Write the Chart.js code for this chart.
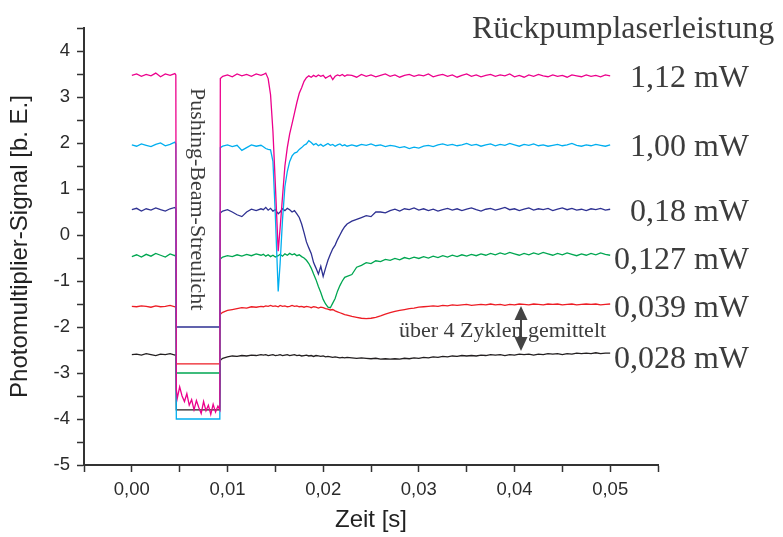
<!DOCTYPE html>
<html>
<head>
<meta charset="utf-8">
<title>Photomultiplier-Signal</title>
<script src="https://cdn.jsdelivr.net/npm/chart.js@4.4.1/dist/chart.umd.min.js"></script>
<style>
    html, body { margin: 0; padding: 0; background: #fff; }
    #wrap { width: 783px; height: 537px; }
</style>
</head>
<body>
<div id="wrap"><canvas id="chart" width="783" height="537"></canvas></div>
<script>
// Zeitachse (s) - gemeinsam fuer alle Kurven
const zeit = [
    0, 0.0005, 0.001, 0.0015, 0.002, 0.0025, 0.003, 0.0035, 0.004, 0.0045, 0.0046,
    0.00465, 0.00475, 0.005, 0.00525, 0.0055, 0.00575, 0.006, 0.00625, 0.0065, 0.00675,
    0.007, 0.00725, 0.0075, 0.00775, 0.008, 0.00825, 0.0085, 0.00875, 0.009, 0.0092,
    0.00925, 0.0095, 0.01, 0.0105, 0.011, 0.0115, 0.012, 0.0125, 0.013, 0.0135,
    0.01375, 0.014, 0.01425, 0.0145, 0.01475, 0.015, 0.0153, 0.0155, 0.01575, 0.016,
    0.01625, 0.0165, 0.01675, 0.017, 0.01725, 0.0175, 0.01775, 0.018, 0.01825, 0.0185,
    0.01875, 0.019, 0.01925, 0.0195, 0.01975, 0.02, 0.02025, 0.0205, 0.02075, 0.021,
    0.02125, 0.0215, 0.02175, 0.022, 0.02225, 0.0225,
    0.023, 0.0235, 0.024, 0.0245, 0.025, 0.0255, 0.026, 0.0265, 0.027, 0.0275,
    0.028, 0.0285, 0.029, 0.0295, 0.03, 0.0305, 0.031, 0.0315, 0.032, 0.0325,
    0.033, 0.0335, 0.034, 0.0345, 0.035, 0.0355, 0.036, 0.0365, 0.037, 0.0375,
    0.038, 0.0385, 0.039, 0.0395, 0.04, 0.0405, 0.041, 0.0415, 0.042, 0.0425,
    0.043, 0.0435, 0.044, 0.0445, 0.045, 0.0455, 0.046, 0.0465, 0.047, 0.0475,
    0.048, 0.0485, 0.049, 0.0495, 0.05
];

// 1,12 mW
const p112 = [
    3.47, 3.50, 3.45, 3.49, 3.46, 3.52, 3.44, 3.50, 3.47, 3.51, 3.48,
    -3.35, -3.55, -3.30, -3.50, -3.62, -3.45, -3.70, -3.58, -3.80, -3.60,
    -3.75, -3.88, -3.62, -3.82, -3.70, -3.90, -3.68, -3.85, -3.72, -3.80,
    3.40, 3.45, 3.48, 3.44, 3.50, 3.46, 3.49, 3.45, 3.50, 3.47,
    3.49, 3.52, 3.40, 3.05, 2.25, 1.10, -0.35, 0.15, 0.83, 1.50,
    1.90, 2.20, 2.42, 2.65, 2.88, 3.08, 3.20, 3.34, 3.42, 3.46,
    3.43, 3.47, 3.44, 3.48, 3.45, 3.47, 3.41, 3.44, 3.47, 3.38,
    3.45, 3.48, 3.46, 3.49, 3.45, 3.48,
    3.47, 3.43, 3.49, 3.45, 3.48, 3.44, 3.47, 3.50, 3.45, 3.48,
    3.43, 3.47, 3.49, 3.45, 3.48, 3.46, 3.50, 3.44, 3.47, 3.49,
    3.45, 3.48, 3.43, 3.47, 3.50, 3.45, 3.48, 3.44, 3.47, 3.49,
    3.45, 3.48, 3.46, 3.50, 3.44, 3.47, 3.43, 3.48, 3.45, 3.49,
    3.46, 3.44, 3.48, 3.45, 3.47, 3.43, 3.48, 3.46, 3.44, 3.48,
    3.45, 3.47, 3.44, 3.48, 3.46
];

// 1,00 mW
const p100 = [
    1.96, 1.93, 1.98, 1.95, 1.92, 1.97, 2.00, 1.94, 1.97, 2.02, 1.98,
    -4.0, -4.0, -4.0, -4.0, -4.0, -4.0, -4.0, -4.0, -4.0, -4.0,
    -4.0, -4.0, -4.0, -4.0, -4.0, -4.0, -4.0, -4.0, -4.0, -4.0,
    1.90, 1.93, 1.96, 1.92, 1.95, 1.84, 1.90, 1.96, 1.93, 1.95,
    1.92, 1.88, 1.86, 1.85, 1.60, 0.43, -1.23, -0.62, 0.33, 1.05,
    1.38, 1.60, 1.72, 1.78, 1.80, 1.86, 1.90, 1.95, 1.98, 2.05,
    2.01, 1.96, 1.99, 1.94, 1.97, 1.93, 1.96, 1.99, 1.95, 1.97,
    1.93, 1.96, 1.98, 1.94, 1.96, 1.93,
    1.96, 1.93, 1.97, 1.95, 1.98, 1.94, 1.96, 1.92, 1.95, 1.93,
    1.90, 1.92, 1.88, 1.91, 1.89, 1.93, 1.95, 1.92, 1.96, 1.98,
    1.95, 1.97, 1.94, 1.96, 1.99, 1.95, 1.97, 1.93, 1.96, 1.98,
    1.94, 1.97, 1.95, 1.99, 1.96, 1.93, 1.97, 1.95, 1.98, 1.94,
    1.96, 1.93, 1.95, 1.97, 1.94, 1.96, 1.99, 1.95, 1.93, 1.96,
    1.94, 1.97, 1.95, 1.93, 1.96
];

// 0,18 mW
const p018 = [
    0.55, 0.58, 0.52, 0.57, 0.54, 0.59, 0.55, 0.52, 0.57, 0.60, 0.56,
    -2.0, -2.0, -2.0, -2.0, -2.0, -2.0, -2.0, -2.0, -2.0, -2.0,
    -2.0, -2.0, -2.0, -2.0, -2.0, -2.0, -2.0, -2.0, -2.0, -2.0,
    0.48, 0.52, 0.55, 0.50, 0.44, 0.40, 0.50, 0.56, 0.53, 0.57,
    0.55, 0.60, 0.54, 0.58, 0.52, 0.55, 0.46, 0.50, 0.57, 0.53,
    0.58, 0.55, 0.50, 0.53, 0.46, 0.38, 0.24, 0.05, -0.15, -0.28,
    -0.40, -0.60, -0.72, -0.85, -0.68, -0.90, -0.72, -0.55, -0.42, -0.30,
    -0.22, -0.10, 0.00, 0.10, 0.18, 0.24,
    0.30, 0.34, 0.38, 0.42, 0.40, 0.50, 0.50, 0.48, 0.53, 0.56,
    0.52, 0.57, 0.55, 0.59, 0.54, 0.57, 0.53, 0.56, 0.52, 0.55,
    0.58, 0.54, 0.57, 0.53, 0.56, 0.59, 0.55, 0.52, 0.56, 0.58,
    0.54, 0.57, 0.60, 0.55, 0.57, 0.53, 0.56, 0.59, 0.54, 0.57,
    0.55, 0.58, 0.53, 0.56, 0.59, 0.55, 0.58, 0.54, 0.56, 0.53,
    0.57, 0.55, 0.58, 0.54, 0.56
];

// 0,127 mW
const p0127 = [
    -0.47, -0.43, -0.48, -0.42, -0.46, -0.40, -0.44, -0.48, -0.41, -0.45, -0.43,
    -3.0, -3.0, -3.0, -3.0, -3.0, -3.0, -3.0, -3.0, -3.0, -3.0,
    -3.0, -3.0, -3.0, -3.0, -3.0, -3.0, -3.0, -3.0, -3.0, -3.0,
    -0.52, -0.48, -0.45, -0.47, -0.43, -0.46, -0.42, -0.45, -0.41, -0.44,
    -0.42, -0.46, -0.43, -0.47, -0.44, -0.48, -0.45, -0.42, -0.46, -0.41,
    -0.44, -0.40, -0.43, -0.41, -0.45, -0.43, -0.47, -0.50, -0.55, -0.62,
    -0.72, -0.85, -0.97, -1.12, -1.25, -1.40, -1.50, -1.57, -1.58, -1.48,
    -1.38, -1.22, -1.10, -1.00, -0.92, -0.90,
    -0.86, -0.70, -0.66, -0.60, -0.62, -0.56, -0.58, -0.53, -0.55, -0.51,
    -0.54, -0.49, -0.52, -0.48, -0.51, -0.47, -0.50, -0.46, -0.49, -0.45,
    -0.48, -0.44, -0.47, -0.43, -0.46, -0.42, -0.45, -0.41, -0.44, -0.40,
    -0.43, -0.39, -0.42, -0.38, -0.41, -0.44, -0.40, -0.43, -0.39, -0.42,
    -0.38, -0.41, -0.44, -0.40, -0.43, -0.39, -0.42, -0.45, -0.41, -0.44,
    -0.40, -0.43, -0.39, -0.42, -0.44
];

// 0,039 mW (ueber 4 Zyklen gemittelt)
const p0039 = [
    -1.55, -1.56, -1.54, -1.55, -1.57, -1.54, -1.56, -1.55, -1.53, -1.56, -1.55,
    -2.8, -2.8, -2.8, -2.8, -2.8, -2.8, -2.8, -2.8, -2.8, -2.8,
    -2.8, -2.8, -2.8, -2.8, -2.8, -2.8, -2.8, -2.8, -2.8, -2.8,
    -1.72, -1.68, -1.64, -1.62, -1.60, -1.58, -1.59, -1.56, -1.57, -1.55,
    -1.56, -1.54, -1.55, -1.53, -1.55, -1.54, -1.56, -1.53, -1.55, -1.54,
    -1.56, -1.55, -1.53, -1.55, -1.54, -1.56, -1.55, -1.57, -1.55, -1.56,
    -1.58, -1.56, -1.57, -1.59, -1.57, -1.58, -1.60, -1.61, -1.63, -1.62,
    -1.65, -1.67, -1.69, -1.71, -1.73, -1.74,
    -1.77, -1.79, -1.81, -1.82, -1.81, -1.79, -1.76, -1.72, -1.69, -1.66,
    -1.64, -1.62, -1.60, -1.59, -1.57, -1.56, -1.55, -1.54, -1.55, -1.53,
    -1.54, -1.52, -1.53, -1.52, -1.51, -1.53, -1.52, -1.51, -1.52, -1.50,
    -1.52, -1.51, -1.53, -1.51, -1.52, -1.50, -1.51, -1.52, -1.50, -1.51,
    -1.52, -1.50, -1.51, -1.50, -1.52, -1.51, -1.50, -1.52, -1.51, -1.50,
    -1.51, -1.50, -1.52, -1.51, -1.50
];

// 0,028 mW (ueber 4 Zyklen gemittelt)
const p0028 = [
    -2.60, -2.59, -2.61, -2.58, -2.60, -2.62, -2.59, -2.60, -2.58, -2.61, -2.60,
    -3.8, -3.8, -3.8, -3.8, -3.8, -3.8, -3.8, -3.8, -3.8, -3.8,
    -3.8, -3.8, -3.8, -3.8, -3.8, -3.8, -3.8, -3.8, -3.8, -3.8,
    -2.72, -2.68, -2.65, -2.63, -2.64, -2.62, -2.63, -2.61, -2.62, -2.60,
    -2.61, -2.60, -2.62, -2.61, -2.60, -2.62, -2.61, -2.60, -2.62, -2.61,
    -2.60, -2.62, -2.61, -2.60, -2.62, -2.61, -2.63, -2.62, -2.61, -2.63,
    -2.62, -2.64, -2.62, -2.63, -2.64, -2.63, -2.65, -2.64, -2.65, -2.66,
    -2.65, -2.66, -2.67, -2.66, -2.67, -2.66,
    -2.67, -2.68, -2.67, -2.68, -2.69, -2.68, -2.70, -2.69, -2.70, -2.69,
    -2.70, -2.68, -2.69, -2.67, -2.68, -2.66, -2.67, -2.65, -2.66, -2.64,
    -2.65, -2.63, -2.64, -2.62, -2.63, -2.62, -2.63, -2.61, -2.62, -2.60,
    -2.61, -2.60, -2.62, -2.60, -2.61, -2.59, -2.60, -2.59, -2.61, -2.59,
    -2.60, -2.58, -2.59, -2.58, -2.60, -2.58, -2.59, -2.57, -2.58, -2.57,
    -2.58, -2.56, -2.58, -2.57, -2.57
];

const seriesLabels = ['1,12 mW', '1,00 mW', '0,18 mW', '0,127 mW', '0,039 mW', '0,028 mW'];
const seriesColors = ['#ec008c', '#00aeef', '#2e3192', '#00a651', '#ed1c24', '#231f20'];
const seriesValues = [p112, p100, p018, p0127, p0039, p0028];

const xMajorTicks = [0, 0.01, 0.02, 0.03, 0.04, 0.05];
const xTickLabels = ['0,00', '0,01', '0,02', '0,03', '0,04', '0,05'];
const yTickLabels = ['4', '3', '2', '1', '0', '-1', '-2', '-3', '-4', '-5'];

// Texte rechts und im Diagramm
const annotationPlugin = {
    id: 'annotations',
    afterDraw(chart) {
        const ctx = chart.ctx;
        ctx.save();
        ctx.fillStyle = '#3c3c3c';
        ctx.textBaseline = 'alphabetic';

        ctx.font = '32px "Liberation Serif"';
        ctx.textAlign = 'left';
        ctx.fillText('Rückpumplaserleistung', 472, 38);

        ctx.textAlign = 'right';
        const baselines = [87, 156, 221, 269, 317, 368];
        seriesLabels.forEach((label, i) => {
            ctx.fillText(label, 749, baselines[i]);
        });

        // Doppelpfeil
        ctx.fillStyle = '#444';
        ctx.strokeStyle = '#444';
        ctx.lineWidth = 2;
        ctx.beginPath();
        ctx.moveTo(521, 319);
        ctx.lineTo(521, 338);
        ctx.stroke();
        ctx.beginPath();
        ctx.moveTo(521, 306);
        ctx.lineTo(527.5, 320);
        ctx.lineTo(514.5, 320);
        ctx.closePath();
        ctx.fill();
        ctx.beginPath();
        ctx.moveTo(521, 351);
        ctx.lineTo(527.5, 337);
        ctx.lineTo(514.5, 337);
        ctx.closePath();
        ctx.fill();

        ctx.fillStyle = '#3c3c3c';
        ctx.font = '22px "Liberation Serif"';
        ctx.textAlign = 'left';
        ctx.fillText('über 4 Zyklen gemittelt', 399, 337);

        // senkrechter Text
        ctx.translate(191, 88);
        ctx.rotate(Math.PI / 2);
        ctx.fillText('Pushing-Beam-Streulicht', 0, 0);
        ctx.restore();
    }
};

const initializeChart = () => {
    const ctx = document.getElementById('chart').getContext('2d');
    new Chart(ctx, {
        type: 'line',
        data: {
            datasets: seriesValues.map((values, i) => ({
                label: seriesLabels[i],
                data: zeit.map((t, j) => ({ x: t, y: values[j] })),
                borderColor: seriesColors[i],
                borderWidth: 1.3,
                pointRadius: 0,
                tension: 0,
                fill: false
            }))
        },
        options: {
            responsive: false,
            animation: false,
            layout: { padding: { top: 28, right: 125, left: 0, bottom: 0 } },
            plugins: {
                legend: { display: false },
                tooltip: { enabled: false }
            },
            scales: {
                x: {
                    type: 'linear',
                    min: -0.005,
                    max: 0.055,
                    afterFit: (scale) => { scale.height = 72; },
                    border: { display: true, color: '#333', width: 2 },
                    grid: {
                        drawOnChartArea: false,
                        drawTicks: true,
                        tickLength: 7,
                        tickWidth: 1.5,
                        tickColor: '#333'
                    },
                    ticks: {
                        stepSize: 0.005,
                        autoSkip: false,
                        maxRotation: 0,
                        padding: 7,
                        color: '#2b2b2b',
                        font: { family: 'Liberation Sans', size: 18.5 },
                        callback: (v) => {
                            const k = xMajorTicks.findIndex(m => Math.abs(m - v) < 1e-6);
                            return k >= 0 ? xTickLabels[k] : '';
                        }
                    },
                    title: {
                        display: true,
                        text: 'Zeit [s]',
                        color: '#222',
                        font: { family: 'Liberation Sans', size: 24 },
                        padding: { top: 0, bottom: 2 }
                    }
                },
                y: {
                    min: -5,
                    max: 4.5,
                    afterFit: (scale) => { scale.width = 84; },
                    border: { display: true, color: '#333', width: 2 },
                    grid: {
                        drawOnChartArea: false,
                        drawTicks: true,
                        tickLength: 7,
                        tickWidth: 1.5,
                        tickColor: '#333'
                    },
                    ticks: {
                        stepSize: 0.5,
                        autoSkip: false,
                        padding: 7,
                        color: '#2b2b2b',
                        font: { family: 'Liberation Sans', size: 18.5 },
                        callback: (v) => {
                            const k = yTickLabels.indexOf(String(v));
                            return k >= 0 ? yTickLabels[k] : '';
                        }
                    },
                    title: {
                        display: true,
                        text: 'Photomultiplier-Signal [b. E.]',
                        color: '#222',
                        font: { family: 'Liberation Sans', size: 24 },
                        padding: { top: 6, bottom: 0 }
                    }
                }
            }
        },
        plugins: [annotationPlugin]
    });
};

document.addEventListener('DOMContentLoaded', initializeChart);
</script>
</body>
</html>
